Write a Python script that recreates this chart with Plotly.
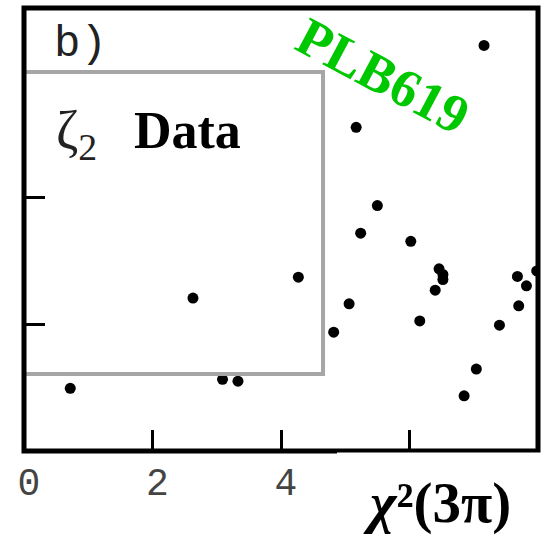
import plotly.graph_objects as go

# ---- data ----
chi2_3pi = [0.72, 2.63, 3.09, 3.33, 4.27, 4.82, 5.06, 5.17, 5.24, 5.50, 6.02, 6.16,
            6.40, 6.46, 6.52, 6.52, 6.85, 7.04, 7.16, 7.40, 7.68, 7.70, 7.82, 7.98]
zeta2 = [0.495, 1.208, 0.566, 0.552, 1.373, 0.939, 1.163, 2.557, 1.721, 1.939, 1.657, 1.028,
         1.271, 1.439, 1.395, 1.355, 0.436, 0.647, 3.204, 0.994, 1.379, 1.147, 1.305, 1.423]
x_tick_vals = [0, 2, 4]
x_tick_text = ["0", "2", "4"]
x_hidden_tick_vals = [6]
y_tick_vals = [1, 2, 3]

W = H = 542
L, R, T, B = 24, 4, 8, 91
PW = W - L - R
PH = H - T - B


def px(x):
    return (x - L) / PW


def py(y):
    return (H - B - y) / PH


fig = go.Figure()
fig.add_trace(go.Scatter(
    x=chi2_3pi, y=zeta2, mode="markers",
    marker=dict(size=11, color="black"),
    showlegend=False, hoverinfo="skip",
))

fig.update_layout(
    width=W, height=H,
    margin=dict(l=L, r=R, t=T, b=B, pad=0),
    paper_bgcolor="white", plot_bgcolor="white",
    xaxis=dict(
        range=[0, 8], showgrid=False, zeroline=False, showline=False,
        tickmode="array", tickvals=x_tick_vals, ticktext=x_tick_text,
        ticks="inside", ticklen=21, tickwidth=3, tickcolor="black",
        tickfont=dict(family="Liberation Mono", size=38, color="#444"),
        ticklabelshift=5, ticklabelstandoff=5,
        minor=dict(tickmode="array", tickvals=x_hidden_tick_vals, ticks="inside",
                   ticklen=21, tickwidth=3, tickcolor="black", showgrid=False),
    ),
    yaxis=dict(
        range=[0, 3.5], showgrid=False, zeroline=False, showline=False,
        tickmode="array", tickvals=y_tick_vals,
        ticks="inside", ticklen=21, tickwidth=3, tickcolor="black",
        showticklabels=False,
    ),
)

# gray inset rectangle
fig.add_shape(type="rect", xref="x", yref="y", x0=0, x1=4.654, y0=0.608, y1=2.994,
              line=dict(color="#a6a6a6", width=4), layer="above")
# black frame
fig.add_shape(type="rect", xref="paper", yref="paper", x0=0, x1=1, y0=0, y1=1,
              line=dict(color="black", width=5), layer="above")
# white box under the axis title
fig.add_shape(type="rect", xref="paper", yref="paper", x0=px(337), x1=px(545),
              y0=py(452.5), y1=py(545), line=dict(width=0), fillcolor="white", layer="above")


def label(text, x, y, family, size, color, angle=0):
    fig.add_annotation(text=text, xref="paper", yref="paper", x=px(x), y=py(y),
                       xanchor="center", yanchor="middle", showarrow=False,
                       textangle=angle, font=dict(family=family, size=size, color=color))


label("b)", 80, 44, "Liberation Mono", 44, "#222")
label("ζ<sub>2</sub>", 76, 134, "Liberation Serif", 54, "#222")
label("<b>Data</b>", 187, 130, "Liberation Serif", 52, "black")
label("<b>PLB619</b>", 383, 76, "Liberation Serif", 54, "#00c800", angle=28)
label("<b><i>χ</i>²(3π)</b>", 437, 503, "Liberation Serif", 57, "black")

fig.write_html("out.html", post_script="document.body.style.margin='0';",
               config={"displayModeBar": False})
